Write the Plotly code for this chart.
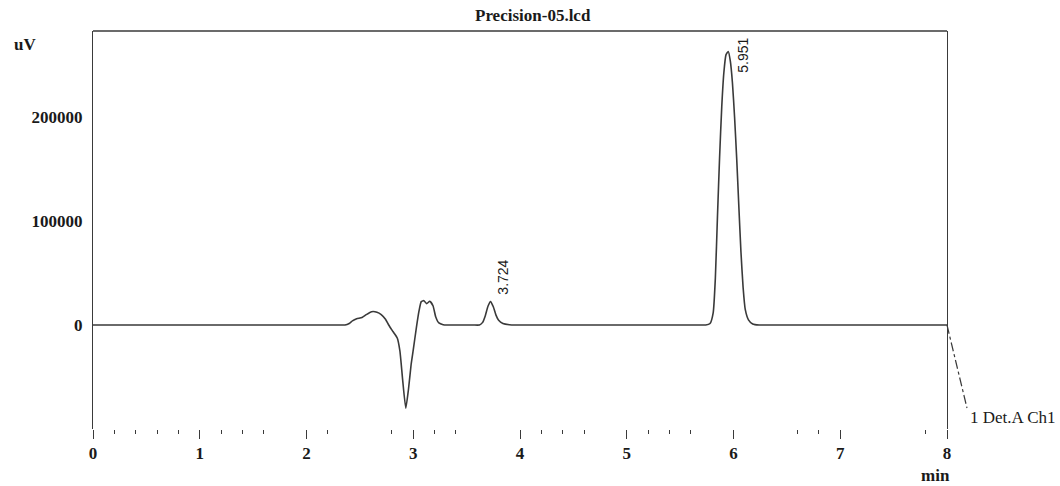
import plotly.graph_objects as go

# ---- data ----
time_min = [0.00, 1.00, 2.00, 2.30, 2.36, 2.40, 2.43, 2.47, 2.52, 2.56, 2.61, 2.66, 2.70, 2.74, 2.77,
            2.81, 2.85, 2.875, 2.90, 2.93, 2.955, 2.98, 3.00, 3.03, 3.055, 3.075,
            3.10, 3.125, 3.155, 3.185, 3.21, 3.24, 3.28, 3.32, 3.40,
            3.56, 3.62, 3.65, 3.675, 3.70, 3.724, 3.75, 3.775, 3.80, 3.84, 3.90, 3.96, 4.05,
            5.00, 5.68, 5.74, 5.78, 5.81, 5.83, 5.85, 5.87, 5.89, 5.91, 5.93, 5.951, 5.97,
            5.99, 6.01, 6.03, 6.05, 6.07, 6.09, 6.11, 6.14, 6.18, 6.24, 6.32, 7.00, 8.00]
signal_uv = [0, 0, 0, 0, 0, 1500, 4000, 6000, 7200, 10000, 12800, 12300, 10000, 5500, 0,
             -6300, -12500, -25000, -52000, -80000, -62000, -38000, -24000, -2000, 14000, 22500,
             23400, 20500, 22800, 18500, 8000, 2000, 300, 0, 0,
             0, 0, 2500, 9000, 18000, 22500, 17500, 9500, 4500, 1500, 300, 0, 0,
             0, 0, 0, 1500, 12000, 45000, 105000, 162000, 210000, 243000, 260000, 263000, 254000,
             233000, 200000, 160000, 114000, 70000, 36000, 15000, 5000, 1000, 0, 0, 0, 0]

peak_times = [3.724, 5.951]
peak_heights = [22500, 263000]
peak_labels = ["3.724", "5.951"]

x_major_ticks = [0, 1, 2, 3, 4, 5, 6, 7, 8]
x_minor_ticks = [0.2, 0.4, 0.6, 0.8, 1.2, 1.4, 1.6, 2.2, 2.8, 3.2, 3.4,
                 4.2, 4.4, 4.6, 5.2, 5.4, 5.6, 6.6, 6.8, 7.8]
y_ticks = [0, 100000, 200000]
y_tick_labels = ["0", "100000", "200000"]

title_text = "Precision-05.lcd"
y_unit = "uV"
x_unit = "min"
channel_label = "1 Det.A Ch1"

# ---- figure ----
SERIF = "Liberation Serif, Times New Roman, serif"
INK = "#1a1a1a"
LINE = "#3a3a3a"

fig = go.Figure()
fig.add_trace(go.Scatter(
    x=time_min, y=signal_uv, mode="lines",
    line=dict(color=LINE, width=1.6, shape="spline", smoothing=0.5),
    hoverinfo="x+y", showlegend=False,
))

fig.update_layout(
    width=1060, height=486,
    margin=dict(l=93, r=113, t=31, b=57, pad=0),
    paper_bgcolor="white", plot_bgcolor="white",
    showlegend=False,
    xaxis=dict(
        range=[0, 8], showgrid=False, zeroline=False, showline=False,
        tickmode="array", tickvals=x_major_ticks,
        ticktext=[str(v) for v in x_major_ticks],
        ticks="outside", ticklen=9, tickwidth=1.3, tickcolor=LINE,
        tickfont=dict(family=SERIF, size=17, color=INK, weight="bold"),
        ticklabelstandoff=0,
        minor=dict(tickmode="array", tickvals=x_minor_ticks, ticks="outside",
                   ticklen=4, tickwidth=1.2, tickcolor=LINE, showgrid=False),
    ),
    yaxis=dict(
        range=[-100000, 282700], showgrid=False, zeroline=False,
        showline=True, mirror=True, linecolor=LINE, linewidth=1.4,
        tickmode="array", tickvals=y_ticks, ticktext=y_tick_labels,
        ticks="", ticklabelstandoff=6,
        tickfont=dict(family=SERIF, size=17, color=INK, weight="bold"),
    ),
)

# top border of the frame
fig.add_shape(type="line", xref="paper", yref="paper", x0=0, x1=1, y0=1, y1=1,
              line=dict(color=LINE, width=1.6))

# leader line from the end of the trace to the channel label
fig.add_shape(type="line", xref="paper", yref="paper",
              x0=1.0, y0=0.2613, x1=1.0234, y1=0.0528,
              line=dict(color=LINE, width=1.2, dash="dashdot"))

annotations = [
    dict(text=title_text, xref="paper", yref="paper", x=0.515, y=1.040,
         showarrow=False, xanchor="center", yanchor="middle",
         font=dict(family=SERIF, size=17, color=INK, weight="bold")),
    dict(text=y_unit, xref="paper", yref="paper", x=-0.0796, y=0.965,
         showarrow=False, xanchor="center", yanchor="middle",
         font=dict(family=SERIF, size=17, color=INK, weight="bold")),
    dict(text=x_unit, xref="paper", yref="paper", x=0.986, y=-0.1156,
         showarrow=False, xanchor="center", yanchor="middle",
         font=dict(family=SERIF, size=17, color=INK, weight="bold")),
    dict(text=channel_label, xref="paper", yref="paper", x=1.0246, y=0.030,
         showarrow=False, xanchor="left", yanchor="middle",
         font=dict(family=SERIF, size=17, color=INK)),
]

label_style = [dict(yanchor="bottom", yshift=5, xshift=13),
               dict(yanchor="middle", yshift=-4, xshift=15)]
for t, h, lab, st in zip(peak_times, peak_heights, peak_labels, label_style):
    annotations.append(dict(
        text=lab, x=t, y=h, xref="x", yref="y", showarrow=False,
        textangle=-90, xanchor="center", yanchor=st["yanchor"],
        xshift=st["xshift"], yshift=st["yshift"],
        font=dict(family="Liberation Sans, Arial, sans-serif", size=14, color=INK),
    ))

fig.update_layout(annotations=annotations)

fig.write_html("out.html")
